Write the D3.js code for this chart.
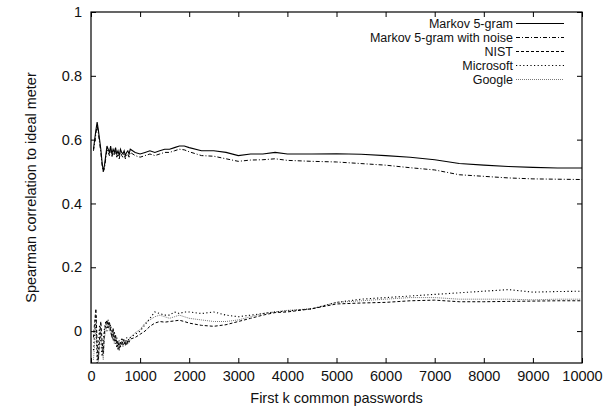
<!DOCTYPE html>
<html>
<head>
<meta charset="utf-8">
<script src="https://cdn.jsdelivr.net/npm/d3@7"></script>
<style>
  body { margin: 0; background: #fff; }
  svg text { font-family: "Liberation Sans", Arial, sans-serif; fill: #111; }
</style>
</head>
<body>
<div id="chart"></div>
<script>
// first k passwords (x values shared by every series)
var kValues = [50, 75, 100, 125, 150, 175, 200, 225, 250, 275, 300, 325, 350, 375, 400, 425, 450, 475, 500,
  525, 550, 575, 600, 625, 650, 675, 700, 725, 750, 775, 800,
  900, 1000, 1100, 1200, 1300, 1400, 1500, 1600, 1700, 1800, 1900, 2000,
  2250, 2500, 2750, 3000, 3250, 3500, 3750, 4000, 4500, 5000, 5500, 6000, 6500, 7000, 7500, 8000, 8500, 9000, 9500, 10000];

var markov = [0.57, 0.60, 0.63, 0.655, 0.63, 0.60, 0.57, 0.53, 0.50, 0.52, 0.55, 0.58, 0.57, 0.56, 0.58, 0.555, 0.57, 0.56, 0.575,
  0.555, 0.565, 0.55, 0.57, 0.56, 0.555, 0.565, 0.55, 0.56, 0.565, 0.555, 0.57,
  0.56, 0.555, 0.56, 0.565, 0.56, 0.565, 0.57, 0.57, 0.575, 0.58, 0.58, 0.575,
  0.565, 0.565, 0.56, 0.55, 0.555, 0.555, 0.56, 0.555, 0.555, 0.556, 0.554, 0.55, 0.545, 0.537, 0.525, 0.52, 0.516, 0.513, 0.511, 0.511];

var markovNoise = [0.565, 0.59, 0.62, 0.645, 0.62, 0.59, 0.56, 0.52, 0.50, 0.51, 0.54, 0.57, 0.56, 0.55, 0.57, 0.545, 0.56, 0.55, 0.565,
  0.545, 0.555, 0.54, 0.56, 0.55, 0.545, 0.555, 0.54, 0.55, 0.555, 0.545, 0.56,
  0.55, 0.545, 0.55, 0.555, 0.55, 0.555, 0.56, 0.56, 0.565, 0.57, 0.568, 0.562,
  0.55, 0.548, 0.54, 0.532, 0.536, 0.537, 0.54, 0.535, 0.532, 0.53, 0.525, 0.52, 0.512, 0.505, 0.49, 0.485, 0.48, 0.477, 0.476, 0.475];

var nist = [-0.02, 0.03, 0.07, -0.04, -0.09, -0.02, 0.03, -0.03, -0.07, 0.0, 0.02, 0.035, 0.01, 0.03, 0.0, -0.02, 0.01, -0.03, -0.01,
  -0.05, -0.03, -0.06, -0.035, -0.045, -0.025, -0.04, -0.03, -0.045, -0.03, -0.035, -0.025,
  -0.02, -0.01, 0.0, 0.015, 0.025, 0.03, 0.028, 0.03, 0.032, 0.034, 0.03, 0.025,
  0.018, 0.015, 0.02, 0.03, 0.04, 0.05, 0.058, 0.06, 0.07, 0.085, 0.088, 0.09, 0.095, 0.097, 0.092, 0.092, 0.093, 0.094, 0.095, 0.095];

var microsoft = [-0.06, 0.0, 0.05, -0.1, -0.05, 0.02, -0.03, -0.08, -0.03, 0.01, 0.03, 0.0, 0.035, 0.01, 0.02, -0.01, -0.03, 0.0, -0.04,
  -0.02, -0.06, -0.03, -0.05, -0.02, -0.045, -0.03, -0.04, -0.02, -0.035, -0.02, -0.02,
  -0.01, 0.0, 0.02, 0.04, 0.06, 0.055, 0.05, 0.05, 0.06, 0.055, 0.06, 0.06,
  0.055, 0.06, 0.05, 0.045, 0.05, 0.055, 0.06, 0.063, 0.07, 0.09, 0.1, 0.105, 0.11, 0.115, 0.12, 0.125, 0.13, 0.122, 0.124, 0.125];

var google = [-0.09, -0.04, 0.02, -0.08, -0.1, -0.04, 0.0, -0.06, -0.09, -0.02, 0.0, 0.02, 0.03, 0.0, 0.015, -0.02, 0.0, -0.04, -0.02,
  -0.04, -0.055, -0.035, -0.045, -0.03, -0.05, -0.035, -0.045, -0.03, -0.04, -0.025, -0.02,
  -0.005, 0.005, 0.025, 0.035, 0.045, 0.05, 0.045, 0.04, 0.045, 0.05, 0.045, 0.04,
  0.035, 0.03, 0.03, 0.035, 0.045, 0.055, 0.06, 0.065, 0.07, 0.09, 0.095, 0.1, 0.105, 0.105, 0.1, 0.1, 0.1, 0.098, 0.1, 0.1];

var seriesNames = ["Markov 5-gram", "Markov 5-gram with noise", "NIST", "Microsoft", "Google"];
var xTicks = [0, 1000, 2000, 3000, 4000, 5000, 6000, 7000, 8000, 9000, 10000];
var yTicks = [0, 0.2, 0.4, 0.6, 0.8, 1];

var styles = [
  {color: "#000", dash: null, w: 1.1},
  {color: "#000", dash: "4,2,1,2", w: 1},
  {color: "#000", dash: "3,2", w: 1},
  {color: "#000", dash: "1.2,2.4", w: 1.1},
  {color: "#777", dash: "1,1", w: 1}
];

var allSeries = [markov, markovNoise, nist, microsoft, google];

var W = 605, H = 408;
var margin = {top: 12, right: 23, bottom: 45, left: 91};
var width = W - margin.left - margin.right,
    height = H - margin.top - margin.bottom;
var fs = "14.5px";

var x = d3.scaleLinear().domain([0, 10000]).range([0, width]);
var y = d3.scaleLinear().domain([-0.1, 1]).range([height, 0]);

var svg = d3.select("#chart").append("svg")
    .attr("width", W).attr("height", H);
var g = svg.append("g").attr("transform", "translate(" + margin.left + "," + margin.top + ")");

g.append("clipPath").attr("id", "clip")
  .append("rect").attr("width", width).attr("height", height);

// ticks inward, mirrored like gnuplot
var tl = 5;
g.append("g").attr("transform", "translate(0," + height + ")")
  .call(d3.axisBottom(x).tickValues(xTicks).tickSize(-tl).tickPadding(8).tickFormat(d3.format("d")));
g.append("g")
  .call(d3.axisTop(x).tickValues(xTicks).tickSize(-tl).tickFormat(""));
g.append("g")
  .call(d3.axisLeft(y).tickValues(yTicks).tickSize(-tl).tickPadding(9).tickFormat(function(d) { return d3.format("")(+d.toFixed(1)); }));
g.append("g").attr("transform", "translate(" + width + ",0)")
  .call(d3.axisRight(y).tickValues(yTicks).tickSize(-tl).tickFormat(""));

g.selectAll(".domain").remove();
g.selectAll(".tick line").attr("stroke", "#000");
g.selectAll(".tick text").style("font-size", fs);

g.append("rect").attr("width", width).attr("height", height)
  .attr("fill", "none").attr("stroke", "#000").attr("stroke-width", 1.2);

var line = d3.line()
  .x(function(d, i) { return x(kValues[i]); })
  .y(function(d) { return y(d); });

var plot = g.append("g").attr("clip-path", "url(#clip)");
// draw the bottom ones first
for (var i = allSeries.length - 1; i >= 0; i--) {
  plot.append("path").datum(allSeries[i])
    .attr("fill", "none")
    .attr("stroke", styles[i].color)
    .attr("stroke-width", styles[i].w)
    .attr("stroke-dasharray", styles[i].dash)
    .attr("d", line);
}

// legend (slightly smaller text so rows don't collide)
var leg = g.append("g").attr("transform", "translate(" + (513 - margin.left) + "," + (23.5 - margin.top) + ")");
seriesNames.forEach(function(name, i) {
  var row = leg.append("g").attr("transform", "translate(0," + (i * 14) + ")");
  row.append("text").attr("text-anchor", "end").attr("dy", "0.35em")
    .style("font-size", "12.5px").text(name);
  row.append("line").attr("x1", 3).attr("x2", 51)
    .attr("stroke", styles[i].color).attr("stroke-width", styles[i].w)
    .attr("stroke-dasharray", styles[i].dash);
});

svg.append("text").attr("x", margin.left + width / 2).attr("y", 403)
  .attr("text-anchor", "middle").style("font-size", fs).text("First k common passwords");
svg.append("text")
  .attr("transform", "translate(36," + (margin.top + height / 2) + ") rotate(-90)")
  .attr("text-anchor", "middle").style("font-size", fs).text("Spearman correlation to ideal meter");
</script>
</body>
</html>
